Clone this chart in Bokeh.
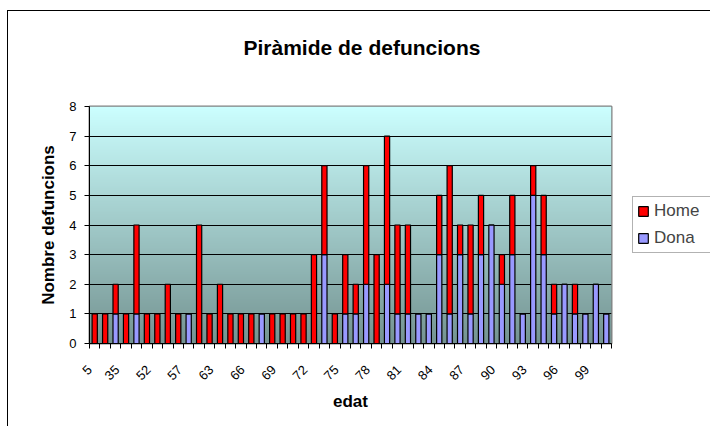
import numpy as np
from bokeh.plotting import figure
from bokeh.models import (ColumnDataSource, Range1d, FixedTicker, Legend, LegendItem, Title)
from bokeh.embed import file_html
from bokeh.resources import INLINE

# ---- data ----
ages = [5, 20, 30, 35, 42, 48, 52, 54, 55, 57, 59, 61, 63, 64, 65, 66, 67, 68,
        69, 70, 71, 72, 73, 74, 75, 76, 77, 78, 79, 80, 81, 82, 83, 84, 85, 86,
        87, 88, 89, 90, 91, 92, 93, 94, 95, 96, 97, 98, 99, 100]
home = [1, 1, 1, 1, 3, 1, 1, 2, 1, 0, 4, 1, 2, 1, 1, 1, 0, 1, 1, 1, 1, 3, 3, 1,
        2, 1, 4, 3, 5, 3, 3, 0, 0, 2, 5, 1, 3, 2, 0, 1, 2, 0, 1, 2, 1, 0, 1, 0,
        0, 0]
dona = [0, 0, 1, 0, 1, 0, 0, 0, 0, 1, 0, 0, 0, 0, 0, 0, 1, 0, 0, 0, 0, 0, 3, 0,
        1, 1, 2, 0, 2, 1, 1, 1, 1, 3, 1, 3, 1, 3, 4, 2, 3, 1, 5, 3, 1, 2, 1, 1,
        2, 1]
label_every = 3
y_ticks = [0, 1, 2, 3, 4, 5, 6, 7, 8]

FONT = "Liberation Sans"
idx = list(range(1, len(ages) + 1))
source = ColumnDataSource(dict(x=idx, Dona=dona, Home=home))

x_start, x_end = 0.5, len(ages) + 0.5
p = figure(frame_width=522, frame_height=237, output_backend="svg",
           toolbar_location=None, x_range=Range1d(x_start, x_end),
           y_range=Range1d(0, 8), min_border_left=81, min_border_right=98,
           min_border_top=94, min_border_bottom=83,
           background_fill_color="white", border_fill_color="white")
p.styles = {"border-left": "1px solid black", "border-top": "1px solid black",
            "margin-top": "10px", "margin-left": "7px"}

# gradient background of the plot area
n = 256
t = np.linspace(0, 1, n)  # 0 bottom, 1 top
top_c = np.array([204, 255, 255])
bot_c = np.array([117, 148, 146])
cols = (bot_c[None, :] * (1 - t[:, None]) + top_c[None, :] * t[:, None]).astype(np.uint32)
img = np.empty((n, 1), dtype=np.uint32)
view = img.view(dtype=np.uint8).reshape((n, 1, 4))
view[:, 0, 0] = cols[:, 0]
view[:, 0, 1] = cols[:, 1]
view[:, 0, 2] = cols[:, 2]
view[:, 0, 3] = 255
bg = p.image_rgba(image=[img], x=x_start, y=0, dw=len(ages), dh=8)
bg.level = "image"

renderers = p.vbar_stack(["Dona", "Home"], x="x", width=0.5, source=source,
                         fill_color=["#9999FF", "#FF0000"], line_color="black",
                         line_width=1.2)

# title
p.title.text = "Piràmide de defuncions"
p.title.text_font = FONT
p.title.text_font_size = "21px"
p.title.text_font_style = "bold"
p.title.text_color = "black"
p.title.align = "left"
p.title.offset = 154
p.title.vertical_align = "middle"
p.title.standoff = 47
spacer = Title(text=" ", text_font_size="10px", standoff=10)
p.add_layout(spacer, "above")

# axes
p.outline_line_color = "#808080"
p.outline_line_width = 2

p.yaxis.ticker = FixedTicker(ticks=y_ticks)
p.yaxis.axis_label = "Nombre defuncions"
p.yaxis.axis_label_text_font = FONT
p.yaxis.axis_label_text_font_size = "17px"
p.yaxis.axis_label_text_font_style = "bold"
p.yaxis.axis_label_text_color = "black"
p.yaxis.major_label_text_font = FONT
p.yaxis.major_label_text_font_size = "13px"
p.yaxis.major_label_text_color = "black"
p.yaxis.major_tick_in = 0
p.yaxis.major_tick_out = 5
p.yaxis.minor_tick_line_color = None
p.yaxis.axis_line_color = "black"
p.yaxis.major_label_standoff = 8
p.yaxis.axis_label_standoff = 8

# rotated labels: anchor slightly left of each labelled category (kept inside the range)
label_pos = [max(i - 0.85, x_start + 0.02) for i in idx[::label_every]]
label_txt = [str(a) for a in ages[::label_every]]
p.xaxis.ticker = FixedTicker(ticks=label_pos,
                             minor_ticks=[i - 0.5 for i in idx] + [x_end])
p.xaxis.major_label_overrides = dict(zip(label_pos, label_txt))
p.xaxis.major_label_orientation = np.pi / 4
p.xaxis.major_label_text_font = FONT
p.xaxis.major_label_text_font_size = "13px"
p.xaxis.major_label_text_color = "black"
p.xaxis.major_tick_line_color = None
p.xaxis.minor_tick_in = 0
p.xaxis.minor_tick_out = 5
p.xaxis.minor_tick_line_color = "black"
p.xaxis.axis_line_color = "black"
p.xaxis.major_label_standoff = 18
p.xaxis.axis_label = "edat"
p.xaxis.axis_label_text_font = FONT
p.xaxis.axis_label_text_font_size = "17px"
p.xaxis.axis_label_text_font_style = "bold"
p.xaxis.axis_label_text_color = "black"
p.xaxis.axis_label_standoff = 5

p.xgrid.grid_line_color = None
p.ygrid.ticker = FixedTicker(ticks=y_ticks[1:-1])
p.ygrid.grid_line_color = "black"
p.ygrid.grid_line_width = 1

legend = Legend(items=[LegendItem(label="Home", renderers=[renderers[1]]),
                       LegendItem(label="Dona", renderers=[renderers[0]])],
                location=(21, 90), orientation="vertical")
legend.label_text_font = FONT
legend.label_text_font_size = "17px"
legend.border_line_color = "#666666"
legend.border_line_width = 1
legend.background_fill_color = "white"
legend.background_fill_alpha = 1
legend.glyph_width = 12
legend.glyph_height = 12
legend.padding = 4
legend.spacing = 7
legend.margin = 0
legend.label_standoff = 5
legend.label_width = 52
p.add_layout(legend, "right")

open("out.html", "w").write(file_html(p, INLINE))
